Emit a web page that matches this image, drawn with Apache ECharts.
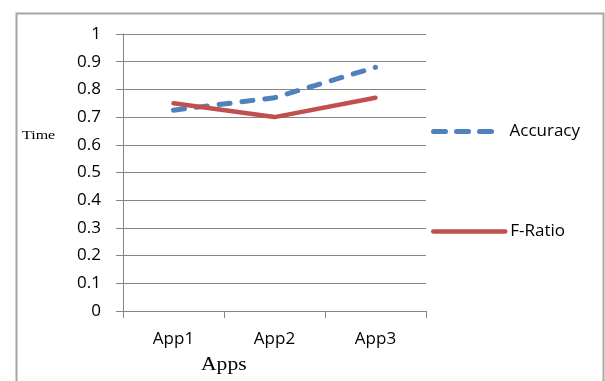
<!DOCTYPE html>
<html>
<head>
<meta charset="utf-8">
<script src="https://cdn.jsdelivr.net/npm/echarts@6/dist/echarts.min.js"></script>
<style>
  html, body { margin: 0; padding: 0; background: #fff; }
  #chart { width: 605px; height: 381px; }
</style>
</head>
<body>
<div id="chart"></div>
<script>
// Chart data
const categories = ['App1', 'App2', 'App3'];
const accuracy = [0.725, 0.77, 0.88];
const fRatio = [0.75, 0.70, 0.77];
const yTicks = [0, 0.1, 0.2, 0.3, 0.4, 0.5, 0.6, 0.7, 0.8, 0.9, 1];

const gray = '#868686';
const labelFont = '"Open Sans", Lato, sans-serif';
const blue = '#4F81BD';
const red = '#C0504D';
const blueDash = { color: blue, width: 5, type: [11, 12], cap: 'round' };
const redSolid = { color: red, width: 4.5, cap: 'round', join: 'round' };

const chart = echarts.init(document.getElementById('chart'), null, { renderer: 'canvas' });

chart.setOption({
  animation: false,
  backgroundColor: '#fff',
  grid: { left: 123, top: 34, right: 179, bottom: 70 },
  legend: [
    {
      data: ['Accuracy'],
      left: 431, top: 123, padding: 0,
      itemWidth: 62, itemHeight: 20, itemGap: 0,
      itemStyle: { opacity: 0 },
      lineStyle: Object.assign({}, blueDash, { type: [12, 11] }),
      textStyle: { fontFamily: labelFont, fontSize: 17, color: '#000', padding: [0, 0, 0, 9] }
    },
    {
      data: ['F-Ratio'],
      left: 431, top: 223, padding: 0,
      itemWidth: 72, itemHeight: 20, itemGap: 0,
      itemStyle: { opacity: 0 },
      lineStyle: redSolid,
      textStyle: { fontFamily: labelFont, fontSize: 17, color: '#000', padding: [0, 0, 0, 0] }
    }
  ],
  xAxis: {
    type: 'category',
    data: categories,
    boundaryGap: true,
    axisLine: { lineStyle: { color: gray, width: 1 } },
    axisTick: { show: true, length: 7, lineStyle: { color: gray } },
    axisLabel: { margin: 20, fontFamily: labelFont, fontSize: 17, color: '#000' },
    splitLine: { show: false }
  },
  yAxis: {
    type: 'value',
    min: yTicks[0],
    max: yTicks[yTicks.length - 1],
    interval: 0.1,
    axisLine: { show: true, lineStyle: { color: gray, width: 1 } },
    axisTick: { show: true, length: 7, lineStyle: { color: gray } },
    axisLabel: {
      margin: 22, fontFamily: labelFont, fontSize: 17, color: '#000',
      formatter: v => String(Math.round(v * 10) / 10)
    },
    splitLine: { show: true, lineStyle: { color: gray, width: 1 } }
  },
  series: [
    {
      name: 'Accuracy',
      type: 'line',
      data: accuracy,
      symbol: 'none',
      itemStyle: { color: blue },
      lineStyle: blueDash,
      z: 3
    },
    {
      name: 'F-Ratio',
      type: 'line',
      data: fRatio,
      symbol: 'none',
      itemStyle: { color: red },
      lineStyle: redSolid,
      z: 4
    }
  ],
  graphic: [
    {
      type: 'rect',
      shape: { x: 16.5, y: 13.5, width: 587, height: 400 },
      style: { fill: 'none', stroke: '#a6a6a6', lineWidth: 2 },
      silent: true
    },
    {
      type: 'text',
      x: 22, y: 136, scaleX: 1.28,
      style: {
        text: 'Time', font: '12.5px "Liberation Serif", "DejaVu Serif", serif',
        fill: '#000', textVerticalAlign: 'middle'
      }
    },
    {
      type: 'text',
      x: 201, y: 365, scaleX: 1.2,
      style: {
        text: 'Apps', font: '18px "Liberation Serif", "DejaVu Serif", serif',
        fill: '#000', textVerticalAlign: 'middle'
      }
    }
  ]
});
</script>
</body>
</html>
